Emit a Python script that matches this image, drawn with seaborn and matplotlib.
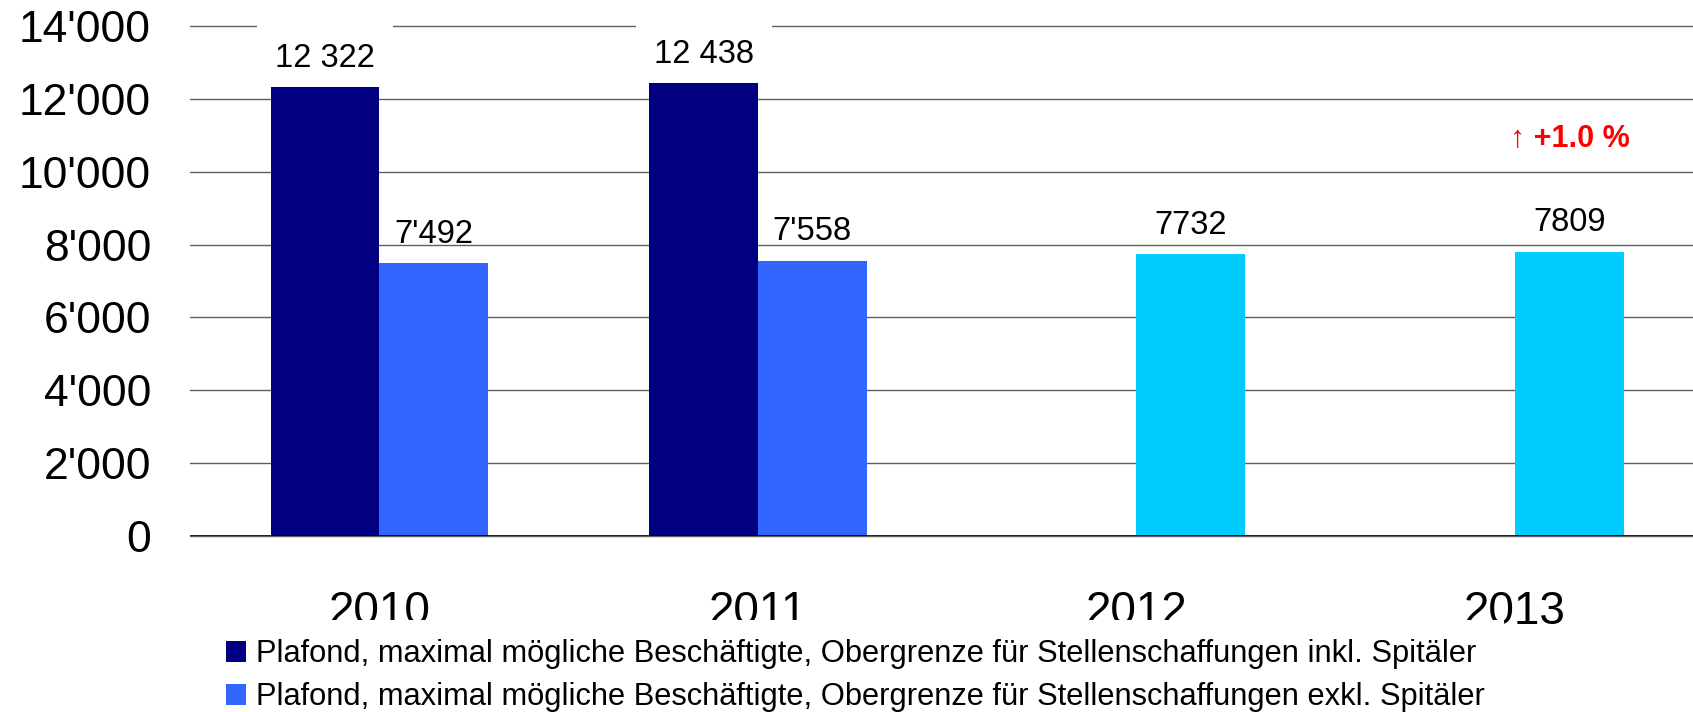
import matplotlib
matplotlib.use("Agg")
import matplotlib.pyplot as plt
from matplotlib.patches import Patch
from matplotlib.ticker import FuncFormatter
import seaborn as sns
import pandas as pd

# ---- data ----
years = ["2010", "2011", "2012", "2013"]
inkl_years = ["2010", "2011"]
inkl_values = [12322, 12438]
inkl_labels = ["12 322", "12 438"]
exkl_years = ["2010", "2011", "2012", "2013"]
exkl_values = [7492, 7558, 7732, 7809]
exkl_labels = ["7'492", "7'558", "7732", "7809"]
series_names = [
    "Plafond, maximal mögliche Beschäftigte, Obergrenze für Stellenschaffungen inkl. Spitäler",
    "Plafond, maximal mögliche Beschäftigte, Obergrenze für Stellenschaffungen exkl. Spitäler",
]
y_ticks = [0, 2000, 4000, 6000, 8000, 10000, 12000, 14000]
change_text = "↑ +1.0 %"
change_level = 10900

col_inkl = "#000080"
col_exkl = "#3366FF"
col_new = "#00CCFF"
exkl_colours = [col_exkl, col_exkl, col_new, col_new]

df = pd.DataFrame({
    "year": inkl_years + exkl_years,
    "value": inkl_values + exkl_values,
    "series": [series_names[0]] * len(inkl_years) + [series_names[1]] * len(exkl_years),
})

sns.set_theme(style="white")
plt.rcParams["font.family"] = ["Liberation Sans", "DejaVu Sans"]
plt.rcParams["text.color"] = "black"

W, H = 1693, 712
fig = plt.figure(figsize=(W / 100, H / 100), dpi=100)
ax = fig.add_axes([190 / W, 1 - 536 / H, (W - 190) / W, (536 - 26) / H])

sns.barplot(data=df, x="year", y="value", hue="series", order=years,
            hue_order=series_names, palette=[col_inkl, col_exkl],
            width=0.574, saturation=1, errorbar=None, legend=False, ax=ax,
            linewidth=0)

c_inkl, c_exkl = ax.containers[0], ax.containers[1]
for p, c in zip(c_exkl, exkl_colours):
    p.set_facecolor(c)
    p.set_zorder(2)
for p in c_inkl:
    p.set_zorder(2)

ax.bar_label(c_inkl, labels=inkl_labels, padding=9.5, fontsize=23.5, color="black",
             zorder=1.5,
             bbox=dict(boxstyle="square,pad=0.55", facecolor="white", edgecolor="none"))
ax.bar_label(c_exkl, labels=exkl_labels, padding=9.5, fontsize=23.5, color="black")

last = c_exkl[len(c_exkl) - 1]
ax.text(last.get_x() + last.get_width() / 2, change_level, change_text,
        ha="center", va="center", color="#FF0000", fontsize=22, fontweight="bold",
        family=["Liberation Sans", "DejaVu Sans"])

ax.set_xlim(-0.5, 3.47)
ax.set_ylim(0, 14000)
ax.set_yticks(y_ticks)
ax.yaxis.set_major_formatter(FuncFormatter(lambda v, _: f"{v:,.0f}".replace(",", "'")))
ax.yaxis.grid(True, color="#5f5f5f", linewidth=1.0)
for gl in ax.get_ygridlines():
    gl.set_clip_on(False)
    gl.set_zorder(0.5)
ax.axhline(0, color="black", linewidth=1.2, zorder=3)
for s in ax.spines.values():
    s.set_visible(False)
ax.tick_params(axis="y", length=0, pad=28, labelsize=32, labelcolor="black")
ax.tick_params(axis="x", length=0, pad=39, labelsize=33, labelcolor="black")
ax.set_xlabel("")
ax.set_ylabel("")

handles = [Patch(facecolor=col_inkl, edgecolor="none"), Patch(facecolor=col_exkl, edgecolor="none")]
leg = fig.legend(handles, series_names, loc="upper left",
                 bbox_to_anchor=(207 / W, 1 - 620 / H), fontsize=22.2,
                 frameon=True, facecolor="white", edgecolor="none", framealpha=1,
                 handlelength=0.65, handleheight=0.65, handletextpad=0.33,
                 labelspacing=0.42, borderpad=0.62, borderaxespad=0, fancybox=False)
leg.get_frame().set_linewidth(0)
for t in leg.get_texts():
    t.set_color("black")

fig.savefig("out.png", dpi=100, facecolor="white")
